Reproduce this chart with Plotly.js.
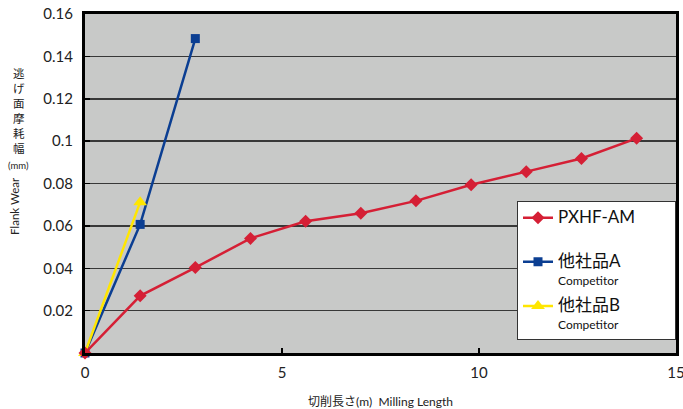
<!DOCTYPE html>
<html><head><meta charset="utf-8">
<script src="https://cdn.plot.ly/plotly-3.0.1.min.js"></script>
<style>html,body{margin:0;padding:0;background:#fff}#chart{width:683px;height:409px}</style>
</head><body><div id="chart"></div>
<script>
// Data
const pxhfX = [0, 1.4, 2.8, 4.2, 5.6, 7.0, 8.4, 9.8, 11.2, 12.6, 14.0];
const pxhfY = [0, 0.027, 0.0403, 0.0541, 0.0622, 0.066, 0.0718, 0.0794, 0.0856, 0.0918, 0.1013];
const compAX = [0, 1.4, 2.8];
const compAY = [0, 0.0607, 0.1484];
const compBX = [0, 1.4];
const compBY = [0, 0.0712];
const yTickVals = [0.02, 0.04, 0.06, 0.08, 0.1, 0.12, 0.14, 0.16];
const yTickText = ['0.02', '0.04', '0.06', '0.08', '0.1', '0.12', '0.14', '0.16'];
const xTickVals = [0, 5, 10, 15];
const names = ['PXHF-AM', '他社品A', '他社品B'];
const subName = 'Competitor';

const FONT = 'Lato, "Noto Sans CJK JP", sans-serif';
const pad = '\u00a0\u00a0\u00a0\u00a0\u00a0\u00a0\u00a0\u00a0';
const big = s => '<span style="font-size:17px">' + s + '</span>';
const sub = '<br><span style="font-size:12px">' + subName + '</span>';

const traces = [
  {x: compAX, y: compAY, name: big(names[1]) + sub, legendgroup: 'a', mode: 'lines+markers', legendrank: 2,
   line: {color: '#0b3e92', width: 2.5}, marker: {symbol: 'square', size: 9, color: '#0b3e92'}, cliponaxis: false},
  {x: compBX, y: compBY, name: big(names[2]) + sub, legendgroup: 'b', mode: 'lines+markers', legendrank: 3,
   line: {color: '#ffe600', width: 2.5}, marker: {symbol: 'triangle-up', size: 12, color: '#ffe600'}, cliponaxis: false},
  {x: pxhfX, y: pxhfY, name: big(names[0] + pad) + '<br> ', legendgroup: 'p', mode: 'lines+markers', legendrank: 1,
   line: {color: '#d51f35', width: 2.5}, marker: {symbol: 'diamond', size: 10, color: '#d51f35'}, cliponaxis: false}
];

const layout = {
  width: 683, height: 409,
  margin: {l: 85, r: 7, t: 14, b: 56},
  paper_bgcolor: '#ffffff', plot_bgcolor: '#c8c9c8',
  font: {family: FONT, color: '#222', size: 15},
  showlegend: true,
  legend: {x: 1, xanchor: 'right', y: 0.447, yanchor: 'top', bgcolor: '#ffffff',
           bordercolor: '#333', borderwidth: 1, font: {size: 13.5, color: '#111', family: FONT},
           valign: 'top', tracegroupgap: 6, itemwidth: 30},
  xaxis: {range: [0, 15], tickvals: xTickVals, ticks: 'inside', ticklen: 5, tickwidth: 1.5, tickcolor: '#000',
          showgrid: false, zeroline: false, showline: true, linecolor: '#000', linewidth: 3, mirror: true,
          tickfont: {size: 15, color: '#222'}, ticklabelstandoff: 4, ticklabeloverflow: 'allow',
          title: {text: '切削長さ(m)  Milling Length', font: {size: 12, color: '#222'}, standoff: 22}},
  yaxis: {range: [0, 0.16], tickvals: yTickVals, ticktext: yTickText, ticks: 'inside', ticklen: 5, tickwidth: 1.5, tickcolor: '#000',
          showgrid: true, gridcolor: '#383838', gridwidth: 1.5, zeroline: false,
          showline: true, linecolor: '#000', linewidth: 3, mirror: true,
          tickfont: {size: 15, color: '#222'}, ticklabelstandoff: 6},
  annotations: [
    {text: '逃<br>げ<br>面<br>摩<br>耗<br>幅', xref: 'paper', yref: 'paper', x: -0.112, y: 0.85, xanchor: 'center', yanchor: 'top',
     showarrow: false, font: {size: 11.5, color: '#222'}},
    {text: '(mm)', xref: 'paper', yref: 'paper', x: -0.112, y: 0.552, xanchor: 'center', yanchor: 'middle',
     showarrow: false, font: {size: 9.5, color: '#222'}},
    {text: 'Flank Wear', xref: 'paper', yref: 'paper', x: -0.119, y: 0.433, xanchor: 'center', yanchor: 'middle',
     textangle: -90, showarrow: false, font: {size: 11.5, color: '#222'}}
  ]
};

Plotly.newPlot('chart', traces, layout, {displayModeBar: false, staticPlot: true});
</script></body></html>
